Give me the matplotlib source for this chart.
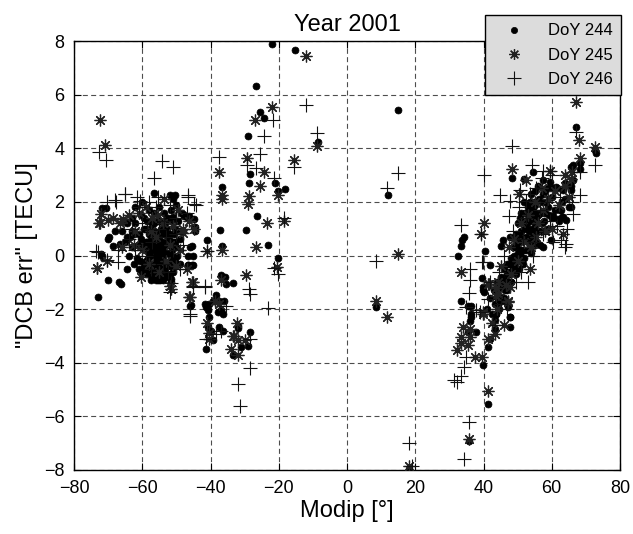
import matplotlib
matplotlib.use("Agg")
import matplotlib.pyplot as plt

plt.rcParams['font.family'] = ['Liberation Sans', 'DejaVu Sans']

# ---------------- data ----------------
# DoY 244 (filled dots)
x244 = [-22, -15.2, -26.8, -25.5, -24.3, -29.1, -8.6, -28.4, -28.7, -36.5, -21.2, -20.1, -18.2, -26.4,
        -37.3, -29.5, -23.1, -36.6, -41, -20.2, -36.8, -35.7, -33.3, -35.4, -38.4, -37.4, -36.1, -37,
        -37.9, -36.4, -41.3, -40.3, -45.9, -32, -28.4, -41.5, -39.4, -40.8, -40.3, -40.8, -39.8, -39.4,
        -41.3, -37.4, -36.4, -32, -31, -29.1, -33.3,
        14.9, 12, 8.6, 18.1, 35.7, 41.3, 39.8,
        -71.8, -70.6, -69.6, -70.1, -68.7, -72.1, -70.1, -66.7, -66.2, -73.1, -56.5, -51.8, -50.4, -50.9,
        -68, -66.5, -64.6, -63.1, -64.6, -71.9, -46, -46.5, -45, -45.5, -46.5, -44.5, -44.5, -47.9, -46.5,
        -48.2, -46.2, -44.7, -44.7, -49.1, -45.4, -46.7, -45.2, -51.6, -51.6, -45.7,
        -62, -61, -60.5, -60, -59.5, -59, -59, -58.5, -58, -58, -57.5, -57.5, -57, -57, -56.5, -56.5, -56,
        -56, -55.5, -55.5, -55.5, -55, -55, -54.5, -54.5, -54.5, -54, -54, -53.5, -53.5, -53, -53, -52.5,
        -52.5, -52, -52, -51.5, -51.5, -51, -51, -50.5, -50, -50, -49.5, -49, -49, -48.5, -48, -66, -65,
        -64.5, -64, -63.5, -63, -62.5, -63, -61.5, -61, -60, -62, -60, -58.5, -57, -56, -54, -53, -52,
        -56.5, -55, -53.5, -58, -59.5, -56, -55, -54.5, -55.8, -56.2, -54.2, -57.8, -53.8,
        -60.5, -59.8, -59.2, -58.7, -58.2, -57.7, -57.2, -56.8, -56.8, -56.3, -55.8, -55.8, -55.3, -55.2,
        -54.8, -54.8, -54.3, -53.8, -53.8, -53.2, -53.2, -52.7, -52.7, -52.2, -51.8, -51.2, -50.8, -50.3,
        -50.5, -49.8, -59.5, -58.8, -57.3, -56.6, -54.7, -53.3, -52.8, -51.7, -61.3, -62.3, -60.8, -57.5,
        -55.3, -56, -54.5, -58.3, -57, -55.5, -53, -51,
        34.2, 33.8, 33.5, 32.5, 40.3, 41.8, 33.5, 35.4, 36.4, 36.4, 43.7, 47.2, 47.7, 39.6, 40, 36.2, 35.9,
        35.4, 37.9, 44.2, 46.7, 47.7, 47.7, 43.8, 43.3, 41.3, 41.8, 48.4, 51.8, 54.5, 65.5, 66.2, 68.4,
        68.2, 67.2, 72.8, 72.9, 60.4, 61.8, 63.1, 62.8, 59.9, 65.5, 65.7, 65.7, 66.2, 57.4, 59.4, 61.3,
        63.3, 63.8, 65.2, 62.3, 63.3, 64.3, 39.8, 39.9, 44.2, 47.7, 48.6, 49.6, 48.2, 45.7, 45.2, 47.7,
        48.6, 50.6, 49.6, 48.6,
        41, 42, 42.5, 43, 43.5, 44, 44.5, 45, 45.5, 46, 46, 46.5, 47, 47, 47.5, 48, 48, 48.5, 49, 49.5, 50,
        50, 50.5, 51, 51, 51.5, 52, 52, 52.5, 53, 53, 53.5, 54, 54, 54.5, 55, 55, 55.5, 56, 56, 56.5, 57,
        57, 57.5, 58, 58, 58.5, 59, 60, 60, 61, 61.5, 62, 63, 64, 53.5, 54.5, 55.5, 52.5, 51.5, 50.5, 53,
        54, 55, 56,
        43.5, 44.5, 45.2, 45.8, 46.3, 46.8, 47.3, 47.8, 48.3, 48.8, 49.3, 49.3, 49.8, 50.3, 50.8, 50.8,
        51.3, 51.8, 52.3, 52.8, 53.3, 53.8, 54.3, 54.8, 55.3, 55.8, 56.3, 56.8, 57.3, 57.8, 58.3, 58.8,
        59.3, 60.5, 52, 51, 53.5, 54, 55.2, 56.5]
y244 = [7.9, 7.66, 6.33, 5.34, 5.11, 4.44, 4.23, 3.05, 2.72, 2.55, 2.72, 2.39, 2.47, 1.49,
        0.96, 0.96, 0.38, 0.34, 0.58, -0.09, -0.71, -0.81, -1.03, -1.06, -1.47, -1.68, -1.7, -2.05,
        -2.12, -2.18, -1.93, -1.8, -1.88, -2.64, -2.84, -1.8, -1.68, -2.05, -2.3, -2.67, -2.8, -3.17,
        -3.48, -2.67, -2.8, -2.7, -3.42, -3.36, -3.7,
        5.44, 2.24, -1.93, -7.95, -6.9, -5.53, -4.08,
        1.78, 1.78, 0.68, 0.62, 0.35, 0.04, -0.9, -1.0, -1.06, -1.55, 2.34, 2.24, 2.24, 2.12,
        0.93, 0.44, 0.68, 0.93, -0.5, 0.0, 0.31, 0.0, 0.0, -0.37, -0.37, 1.06, 0.93, 1.49, 1.41,
        1.56, 1.49, 1.37, 1.06, 0.93, 0.34, -0.35, -0.35, -0.87, -1.0, -1.86,
        1.2, 0.8, 1.5, 0.3, 1.0, 0.5, -0.2, 1.3, 0.8, 0.1, -0.4, 0.6, 1.1, 0.2, -0.6, 0.9, 0.4,
        -0.2, 1.3, 0.0, -0.8, 0.6, -0.4, 0.2, 1.0, -0.7, -0.1, 0.5, -0.5, 0.9, 0.1, -0.3, 1.4,
        0.4, -0.2, 0.8, 0.0, 1.7, 0.5, -0.6, 1.0, 1.9, 0.3, 1.3, 0.6, -0.3, 1.6, 0.9, 0.9, 0.5,
        1.2, 0.0, 0.7, 1.4, -0.3, 0.3, -0.1, -0.5, -0.6, 1.8, 2.0, -0.7, -0.8, -0.9, -0.9, -0.8, -0.7,
        1.6, 1.8, 1.6, 1.7, -0.4, 0.0, 0.2, -0.3, 0.5, -0.4, 0.8, 0.4, 0.3,
        0.6, -0.5, 0.2, 0.5, -0.5, 0.0, -0.3, 0.5, -0.5, 0.2, -0.6, 0.8, 0.3, -0.2,
        -0.9, 0.4, -0.5, -0.7, 0.0, 0.4, -0.6, -0.4, 0.1, 0.6, -0.4, 0.2, 0.8, -0.2,
        0.5, 0.0, 1.4, 1.0, 1.3, 1.2, 1.3, 1.2, 1.0, 1.3, 0.4, 0.8, -0.2, -0.9,
        -0.9, -0.75, -0.55, -0.1, 0.75, 0.55, 0.75, 1.45,
        0.68, 0.56, 0.35, 0.0, 0.15, -0.37, -1.68, -1.87, -2.18, -2.3, -2.18, -1.93, -2.28, -0.83, -1.37,
        -1.9, -2.46, -2.84, -2.84, -1.8, -1.68, -2.3, -2.67, -2.18, -2.74, -3.42, -3.11, 2.9, 2.86, 3.11,
        3.3, 3.38, 3.44, 3.23, 4.81, 3.92, 3.83, 1.49, 1.37, 1.43, 1.68, 0.56, 1.8, 2.43, 2.61, 2.8, 2.8,
        2.74, 2.55, 2.43, 2.12, 1.8, 1.68, 1.43, 1.31, -1.18, -1.27, -1.68, -0.68, -0.5, -0.68, -1.0, 0.56,
        0.37, 0.68, 0.31, 0.06, -0.06, -0.19,
        -2.0, -1.6, -2.2, -1.3, -1.8, -1.0, -1.5, -0.8, -1.2, -0.5, -1.6, -0.9, -0.3, -1.3, -0.6, -0.1,
        -1.0, -0.4, 0.3, 0.8, 0.1, 1.2, 0.5, 1.6, 0.9, 0.2, 1.3, 2.0, 0.7, 1.0, 1.8, 0.4, 1.4, 2.3, 0.8,
        1.1, 1.9, 0.5, 1.5, 2.6, 0.9, 1.2, 2.0, 0.3, 1.6, 2.4, 1.0, 1.8, 1.4, 2.2, 1.7, 2.5, 1.3, 2.0, 2.7,
        1.3, 1.7, 1.4, 0.2, -0.3, -0.5, 0.6, 0.1, 0.4, 0.9,
        -2.4, -2.0, -1.7, -1.0, -1.3, -0.7, -1.0, -0.3, -0.6, 0.0, -0.3, 0.6, 0.4, 0.8, 0.2, 1.4,
        0.6, 1.0, 1.6, 1.2, 0.9, 1.6, 1.0, 2.0, 1.6, 1.2, 2.1, 1.6, 2.3, 1.3, 2.0, 2.5,
        1.5, 2.5, -0.1, -0.2, 2.0, 0.6, 2.4, 0.4]

# DoY 245 (asterisks)
x245 = [-11.9, -22.1, -27, -8.9, -29.3, -15.6, -37.4, -24.3, -25.6, -36.7, -20.2, -28.7, -28.9, -23.3,
        -18.4, -26.6, -36.6, -41.1, -20.4, -29.7, -36.9, -45.2, -46.2, -32.3, -33.5, -38.6, -37.4, -40.3,
        -33, -32, -29.8, -36.7, -41, -40.5, -34, -32,
        14.9, 11.7, 8.6, 18.1, 35.7, 41.3, 48.4, 67, 68, 72.6, 68.2, 59.4, 63.8, 65.7, 40, 39.4, 33.5,
        39.8, 39.8, 34, 35.9, 33.5, 35.9, 33.5, 35.6, 32.2, 37.4, 39.6, 41.3, 43.3, 41.6, 44.2, 47.2,
        41.3, 44.2, 43.7, 47.7, 43.7, 47.1, 63.3, 65.2,
        -72.3, -70.8, -72.1, -72.6, -73.3, -72.4, -69.9, -68.5, -65.5, -66.5, -73.4, -70.4, -51.8, -45.5,
        -51.6, -46, -46.2, -44.7, -48.2,
        -64, -62, -61, -60, -59, -58, -57, -56, -55, -54, -53, -52, -51, -50, -49, -48, -47, -62.5, -66,
        -60.5, -57.5, -53.5, -49.5, -55.5,
        42.5, 44, 45, 46.5, 48, 49, 50, 51, 52, 53, 54, 55, 56, 57, 58, 59, 60, 61, 62, 64, 66, 50.5,
        52.5, 55.5, 57.5, 53.5, 47.5, 46]
y245 = [7.44, 5.52, 5.07, 4.07, 3.64, 3.58, 3.11, 3.11, 2.61, 2.26, 2.26, 2.23, 1.93, 1.23,
        1.27, 0.31, 0.22, 0.16, -0.44, -0.72, -0.93, -1.0, -1.55, -2.51, -3.01, -1.68, -1.8, -3.11,
        -2.99, -3.17, -3.15, 2.1, -2.5, -2.9, -3.5, -3.7,
        0.06, -2.3, -1.7, -7.85, -6.85, -5.06, 3.23, 5.72, 4.32, 4.04, 3.64, 3.17, 2.99, 2.86, 1.2, 0.81,
        -0.62, -2.18, -2.11, -2.67, -2.74, -3.05, -3.05, -3.27, -3.33, -3.52, -3.79, -3.77, -3.11, -2.92,
        -1.06, -1.43, -1.74, -1.06, -1.0, -1.2, -1.18, -1.5, -1.68, 0.81, 2.18,
        5.06, 4.13, 1.56, 1.2, -0.47, 1.2, 1.33, 1.41, 1.35, 1.2, -0.46, -0.19, -1.12, -1.0,
        -1.24, -1.55, 1.3, 0.97, 0.83,
        1.5, 0.9, 1.6, 0.2, 1.8, -0.3, 1.4, 0.7, -0.6, 1.2, -0.2, 0.4, 1.1, -0.4, 0.2, 1.0, -0.5, 0.4, 0.3,
        -0.8, 0.9, 2.1, 1.7, 1.5,
        -2.5, -2.0, -0.4, -1.1, -0.7, 0.6, -0.2, 1.2, 0.5, 1.5, 0.3, 2.0, 1.2, 2.5, 0.9, 2.1, 1.0, 2.4,
        1.9, 2.6, 3.1, 2.3, 2.8, 0.7, 1.7, -0.5, 0.3, -2.6]

# DoY 246 (plus signs)
x246 = [-11.9, -21.8, -24.3, -8.9, -37.4, -25.6, -29.3, -26.8, -15.6, -21.5, -18.4, -41.1, -21.5, -20.1,
        -28.8, -28.5, -41.6, -45.2, -45.9, -23.2, -35.4, -28.4, -46.7, -44.7, -36.9, -41.3, -38.4, -32,
        -31.5, -28.5, -41.6, -45.2, -51.6, -51.8, -46,
        14.9, 11.7, 8.6, 18.1, 19, 35.7, 34.2, 67.2, 72.8, 48.4, 40.1, 54.3, 57.4, 59.4, 68.2, 44.7, 47.7,
        50.6, 52.6, 47.5, 33.5, 39.4, 39.6, 35.9, 35.9, 35.7, 37.9, 35, 38.9, 35, 34.2, 33.5, 32.2, 31.5,
        39.8, 41.3, 62.8, 64.3, 63.8, 68.2, 66.2,
        -72.6, -70.6, -54.2, -51.1, -56.7, -65.2, -67.6, -73.1, -70.4, -70.4, -68, -65, -61.6, -60.6,
        -46.5, -44.2, -73.6, -67, -67,
        -63, -62, -61, -60, -59, -58, -57, -56, -55, -54, -53, -52, -51, -50, -49, -48, -47, -58.5, -64,
        -55.5, -52.5, -50, -57.5, -53.5,
        42, 43.5, 44.5, 46, 47, 48.5, 49.5, 50.5, 51.5, 52.5, 53.5, 54.5, 55.5, 56.5, 57.5, 58.5, 59.5,
        60.5, 61.5, 62.5, 64.5, 66, 51, 53, 55, 57, 60, 45]
y246 = [5.63, 5.07, 4.44, 4.58, 3.67, 3.8, 3.36, 3.26, 3.3, 2.9, 1.41, 0.16, -0.46, -0.68,
        -1.24, -1.43, -1.19, -1.19, -2.24, -1.95, -1.87, -3.1, 2.18, 1.93, -2.8, -3.11, -2.92, -4.8,
        -5.6, -4.2, -1.12, -1.12, -1.03, -1.37, -2.2,
        3.07, 2.51, -0.21, -7.0, -7.85, -6.22, -7.59, 4.6, 3.36, 4.07, 3.02, 3.36, 3.17, 3.17, 3.11, 2.24,
        2.05, 2.43, 2.05, 1.46, 1.12, 0.81, -0.25, -0.5, -0.93, -1.41, -2.05, -1.93, -2.11, -3.77, -4.14,
        -4.48, -4.73, -4.66, -0.25, -1.62, 0.56, 0.44, 0.31, 2.24, 1.56,
        3.86, 3.57, 3.54, 3.3, 2.89, 2.3, 2.0, 0.12, -0.15, 1.99, 2.08, 2.3, 2.18, 2.05,
        2.24, 1.87, 0.16, 0.19, -0.25,
        1.0, 0.2, 1.8, 1.2, 0.0, 2.0, 0.5, 1.8, 1.0, -0.3, 0.7, 1.9, 0.2, 1.4, -0.5, 0.4, 1.6, 1.0, 0.6,
        2.2, -0.6, 0.8, -0.5, 1.3,
        -1.0, -2.6, -0.6, 0.0, -2.0, 0.9, -1.0, 1.8, 0.6, 1.4, 2.3, 0.0, 2.5, 1.7, 0.8, 2.0, 1.3,
        0.5, 1.1, 2.2, 1.0, 2.0, -0.6, -1.0, 0.5, 2.9, 3.0, -1.8]

labels = ["DoY 244", "DoY 245", "DoY 246"]
xticks = [-80, -60, -40, -20, 0, 20, 40, 60, 80]
yticks = [-8, -6, -4, -2, 0, 2, 4, 6, 8]

# ---------------- plot ----------------
fig = plt.figure(figsize=(6.33, 5.34), dpi=100)
ax = fig.add_axes([74 / 633, 1 - 470 / 534, (620 - 74) / 633, (470 - 41) / 534])

star = (8, 2, 0)
ax.plot(x244, y244, linestyle='none', marker='o', ms=5.0, mfc='black', mec='black', mew=0.5,
        label=labels[0], zorder=3)
ax.plot(x245, y245, linestyle='none', marker=star, ms=8.5, mfc='none', mec='#222222', mew=0.9,
        label=labels[1], zorder=3)
ax.plot(x246, y246, linestyle='none', marker='+', ms=10.5, mec='#111111', mew=0.8,
        label=labels[2], zorder=3)

ax.set_xlim(-80, 80)
ax.set_ylim(-8, 8)
ax.set_xticks(xticks)
ax.set_yticks(yticks)
ax.tick_params(direction='in', top=True, right=True, length=5, width=0.8, labelsize=13, pad=7)
ax.grid(True, linestyle=(0, (4.5, 3)), color='0.3', linewidth=0.8)
for sp in ax.spines.values():
    sp.set_linewidth(1.0)

ax.set_title("Year 2001", fontsize=17, pad=7)
ax.set_xlabel("Modip [°]", fontsize=17, labelpad=2)
ax.set_ylabel('"DCB err" [TECU]', fontsize=17, labelpad=4)

leg = fig.legend(loc='upper right', bbox_to_anchor=(621 / 633, 1 - 15 / 534), fontsize=12,
                 frameon=True, fancybox=False, framealpha=1, facecolor='#dcdcdc',
                 edgecolor='black', borderaxespad=0, handlelength=2.5, handletextpad=0.8,
                 labelspacing=0.55, borderpad=0.5, markerscale=0.9)
leg.get_frame().set_linewidth(1.0)

fig.savefig("out.png", dpi=100)
